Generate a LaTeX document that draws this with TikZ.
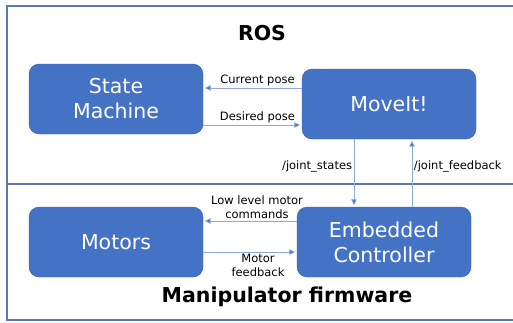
\documentclass[tikz,border=0pt]{standalone}
\usepackage{fontspec}
\setmainfont{DejaVu Sans}
\usetikzlibrary{arrows.meta}
\definecolor{boxblue}{HTML}{4472C4}
\definecolor{boxline}{HTML}{3B62A8}
\definecolor{linkblue}{HTML}{8EA9DB}
\definecolor{frameblue}{HTML}{5A78B2}
\begin{document}
\begin{tikzpicture}[x=1pt,y=-1pt,shorten >=1.5pt]
    \tikzstyle{block}=[rectangle,rounded corners=10pt,draw=boxline,fill=boxblue,text=white,minimum width=174pt,minimum height=70pt,inner sep=0pt,align=center,font=\fontsize{20.5}{25}\selectfont]
    \tikzstyle{heading}=[font=\fontsize{20.5}{24}\selectfont\bfseries]
    \tikzstyle{link}=[draw=linkblue,line width=0.8pt,-{Triangle[length=6pt,width=5.5pt,fill=boxblue]}]
    \tikzstyle{tag}=[font=\fontsize{11.5}{14}\selectfont,align=center,inner sep=1.5pt]
    \useasboundingbox (0,0) rectangle (513,322);
    \clip (0,0) rectangle (513,322);
    \draw[frameblue,line width=1.1pt] (530,6) -| (7,320) -- (530,320);
    \draw[frameblue,line width=1.1pt] (7,184) -- (530,184);
    \node[heading] (T-ros) at (262,33) {ROS};
    \node[heading] (T-fw) at (287,297) {Manipulator firmware};
    \foreach \name/\x/\y/\txt in {SM/116/99/{State\\Machine}, MI/389/104/{MoveIt!}, MO/116/242/{Motors}, EC/384/242/{Embedded\\Controller}}
            \node[block] (B-\name) at (\x,\y) {\txt};

        \draw[link] (B-MI.west |- 0,88) -- node[tag,above,xshift=5pt] {Current pose} (B-SM.east |- 0,88);
        \draw[link] (B-SM.east |- 0,125) -- node[tag,above,xshift=5pt] {Desired pose} (B-MI.west |- 0,125);
        \draw[link] (B-EC.west |- 0,221) -- node[tag,above,xshift=7pt] {Low level motor\\commands} (B-MO.east |- 0,221);
        \draw[link] (B-MO.east |- 0,252) -- node[tag,below,xshift=8pt] {Motor\\feedback} (B-EC.west |- 0,252);
        \draw[link] (B-MI.south -| 354,0) -- node[tag,left,pos=0.4] {/joint\_states} (B-EC.north -| 354,0);
        \draw[link] (B-EC.north -| 412,0) -- node[tag,right,pos=0.6] {/joint\_feedback} (B-MI.south -| 412,0);
\end{tikzpicture}
\end{document}
